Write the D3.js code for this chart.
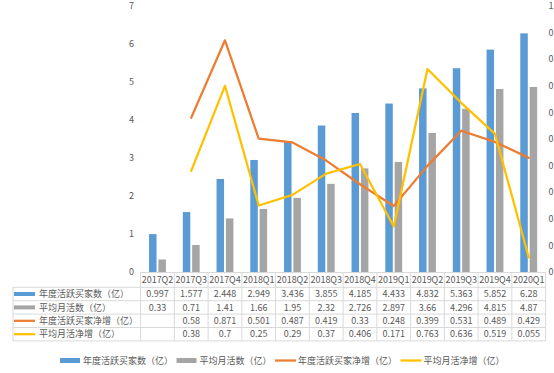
<!DOCTYPE html>
<html><head><meta charset="utf-8">
<script src="https://cdn.jsdelivr.net/npm/d3@7/dist/d3.min.js"></script>
<style>
body{margin:0;background:#fff;}
svg{display:block;font-family:"Noto Sans CJK SC","Noto Sans",sans-serif;}
</style></head>
<body>
<svg id="c" width="554" height="373"></svg>
<script>
const categories = ["2017Q2","2017Q3","2017Q4","2018Q1","2018Q2","2018Q3","2018Q4","2019Q1","2019Q2","2019Q3","2019Q4","2020Q1"];
const seriesNames = ["年度活跃买家数（亿）","平均月活数（亿）","年度活跃买家净增（亿）","平均月活净增（亿）"];
const activeBuyers = [0.997,1.577,2.448,2.949,3.436,3.855,4.185,4.433,4.832,5.363,5.852,6.28];
const monthlyActive = [0.33,0.71,1.41,1.66,1.95,2.32,2.726,2.897,3.66,4.296,4.815,4.87];
const buyersNetAdd = [null,0.58,0.871,0.501,0.487,0.419,0.33,0.248,0.399,0.531,0.489,0.429];
const monthlyNetAdd = [null,0.38,0.7,0.25,0.29,0.37,0.406,0.171,0.763,0.636,0.519,0.055];
const leftTicks = [0,1,2,3,4,5,6,7];
const rightTicks = [0,0.1,0.2,0.3,0.4,0.5,0.6,0.7,0.8,0.9,1];

const colors = ["#5B9BD5","#A5A5A5","#ED7D31","#FFC000"];
const textColor = "#595959";
const gridColor = "#D9D9D9";
const svg = d3.select("#c");

const x0 = 140.6, x1 = 545.6, yTop = 6, yBase = 272;
const x = d3.scaleBand().domain(categories).range([x0, x1]).paddingInner(0.5).paddingOuter(0.25);
const xSub = d3.scaleBand().domain([0,1]).range([0, x.bandwidth()]).paddingInner(0.2);
const yL = d3.scaleLinear().domain([0,7]).range([yBase, yTop]);
const yR = d3.scaleLinear().domain([0,1]).range([yBase, yTop]);
const cx = c => x(c) + x.bandwidth()/2;

// left axis labels
svg.append("g").selectAll("text").data(leftTicks).join("text")
  .attr("x", 134).attr("y", d => yL(d)).attr("dy","0.35em")
  .attr("text-anchor","end").attr("font-size",9).attr("fill",textColor).text(d => d);
// right axis labels
svg.append("g").selectAll("text").data(rightTicks).join("text")
  .attr("x", 548.5).attr("y", d => yR(d)).attr("dy","0.35em")
  .attr("text-anchor","start").attr("font-size",9).attr("fill",textColor).text(d => d);

// bars
[activeBuyers, monthlyActive].forEach((vals, si) => {
  svg.append("g").selectAll("rect").data(categories).join("rect")
    .attr("x", (c) => x(c) + xSub(si))
    .attr("width", xSub.bandwidth())
    .attr("y", (c,i) => yL(vals[i]))
    .attr("height", (c,i) => yBase - yL(vals[i]))
    .attr("fill", colors[si]);
});

// lines
[buyersNetAdd, monthlyNetAdd].forEach((vals, si) => {
  const line = d3.line().defined(d => d.v != null).x(d => cx(d.c)).y(d => yR(d.v));
  svg.append("path").datum(categories.map((c,i) => ({c, v: vals[i]})))
    .attr("d", line).attr("fill","none").attr("stroke", colors[si+2])
    .attr("stroke-width", 2.25).attr("stroke-linejoin","round").attr("stroke-linecap","round");
});

// axis line
svg.append("line").attr("x1", x0).attr("x2", x1).attr("y1", yBase+0.5).attr("y2", yBase+0.5)
  .attr("stroke", gridColor).attr("stroke-width",1);

// data table
const rowH = 13.4, headTop = yBase, headBot = 287.3, tableLeft = 13;
const rowsData = [activeBuyers, monthlyActive, buyersNetAdd, monthlyNetAdd];
const tbl = svg.append("g");
// horizontal lines
for (let r = 0; r <= 4; r++) {
  const yy = headBot + r*rowH;
  tbl.append("line").attr("x1", tableLeft).attr("x2", x1).attr("y1", yy).attr("y2", yy)
    .attr("stroke", gridColor).attr("stroke-width",1);
}
// vertical lines
const bounds = categories.map(c => x(c) - x.step()*x.paddingInner()/2).concat([x1]);
bounds[0] = x0;
tbl.selectAll("line.v").data(bounds).join("line").attr("class","v")
  .attr("x1", d => d).attr("x2", d => d).attr("y1", headTop).attr("y2", headBot + 4*rowH)
  .attr("stroke", gridColor).attr("stroke-width",1);
tbl.append("line").attr("x1", tableLeft).attr("x2", tableLeft).attr("y1", headBot).attr("y2", headBot + 4*rowH)
  .attr("stroke", gridColor).attr("stroke-width",1);
// header
tbl.selectAll("text.h").data(categories).join("text").attr("class","h")
  .attr("x", d => cx(d)).attr("y", (headTop+headBot)/2 + 0.5).attr("dy","0.35em")
  .attr("text-anchor","middle").attr("font-size",9).attr("fill",textColor).text(d => d);
// rows
rowsData.forEach((vals, r) => {
  const yc = headBot + r*rowH + rowH/2;
  tbl.append("g").selectAll("text").data(categories).join("text")
    .attr("x", d => cx(d)).attr("y", yc).attr("dy","0.35em")
    .attr("text-anchor","middle").attr("font-size",9).attr("fill",textColor)
    .text((d,i) => vals[i] == null ? "" : vals[i]);
  if (r < 2) {
    tbl.append("rect").attr("x", 14).attr("y", yc-2).attr("width", 21).attr("height", 4).attr("fill", colors[r]);
  } else {
    tbl.append("line").attr("x1", 14).attr("x2", 35).attr("y1", yc).attr("y2", yc)
      .attr("stroke", colors[r]).attr("stroke-width", 2.25);
  }
  tbl.append("text").attr("x", 39).attr("y", yc).attr("dy","0.35em")
    .attr("font-size",9).attr("fill",textColor).text(seriesNames[r]);
});

// legend
const lg = svg.append("g");
let lx = 60; const ly = 360.5;
seriesNames.forEach((name, i) => {
  if (i < 2) {
    lg.append("rect").attr("x", lx).attr("y", ly-2.5).attr("width", 20).attr("height", 5).attr("fill", colors[i]);
  } else {
    lg.append("line").attr("x1", lx).attr("x2", lx+21).attr("y1", ly).attr("y2", ly)
      .attr("stroke", colors[i]).attr("stroke-width", 2.25);
  }
  const t = lg.append("text").attr("x", lx+23).attr("y", ly).attr("dy","0.35em")
    .attr("font-size",9).attr("fill",textColor).text(name);
  lx = lx + 23 + t.node().getComputedTextLength() + 3.5;
});
</script>
</body></html>
